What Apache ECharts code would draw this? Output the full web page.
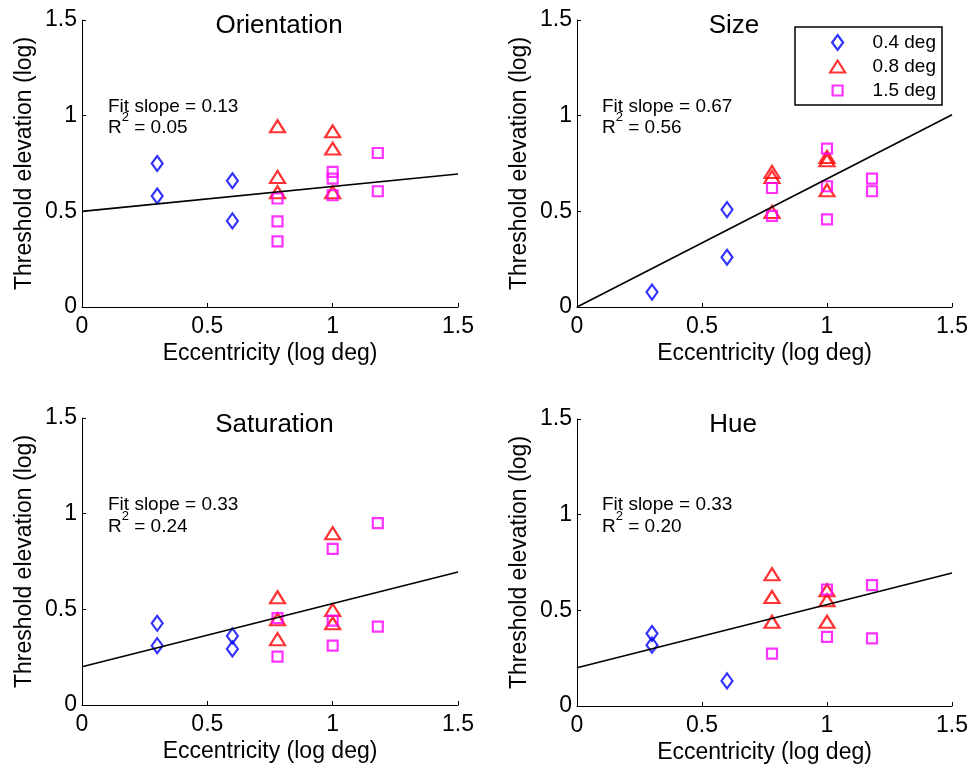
<!DOCTYPE html>
<html>
<head>
<meta charset="utf-8">
<title>Threshold elevation vs eccentricity</title>
<script src="https://cdn.jsdelivr.net/npm/echarts@6/dist/echarts.min.js"></script>
<style>
  html, body { margin: 0; padding: 0; background: #fff; }
  #chart { width: 972px; height: 766px; }
</style>
</head>
<body>
<div id="chart"></div>
<script>
// Panel labels and regression summaries
const panelTitles = ['Orientation', 'Size', 'Saturation', 'Hue'];
const fitSlopes = [0.13, 0.67, 0.33, 0.33];
const fitIntercepts = [0.5, 0, 0.2, 0.2];
const rSquared = ['0.05', '0.56', '0.24', '0.20'];
const fitRange = [0, 1.5];

// Stimulus size groups
const groupNames = ['0.4 deg', '0.8 deg', '1.5 deg'];

// [eccentricity (log deg), threshold elevation (log)]
const orientation04 = [[0.3, 0.75], [0.3, 0.58], [0.6, 0.66], [0.6, 0.45]];
const orientation08 = [[0.78, 0.945], [0.78, 0.68], [0.78, 0.60], [1.0, 0.918], [1.0, 0.828], [1.0, 0.60]];
const orientation15 = [[0.78, 0.567], [0.78, 0.448], [0.78, 0.343], [1.0, 0.706], [1.0, 0.671], [1.0, 0.584], [1.18, 0.805], [1.18, 0.605]];

const size04 = [[0.3, 0.078], [0.6, 0.509], [0.6, 0.26]];
const size08 = [[0.78, 0.706], [0.78, 0.68], [0.78, 0.497], [1.0, 0.784], [1.0, 0.767], [1.0, 0.61]];
const size15 = [[0.78, 0.622], [0.78, 0.476], [1.0, 0.828], [1.0, 0.631], [1.0, 0.458], [1.18, 0.671], [1.18, 0.605]];

const saturation04 = [[0.3, 0.427], [0.3, 0.31], [0.6, 0.361], [0.6, 0.293]];
const saturation08 = [[0.78, 0.563], [0.78, 0.448], [0.78, 0.344], [1.0, 0.898], [1.0, 0.497], [1.0, 0.427]];
const saturation15 = [[0.78, 0.454], [0.78, 0.253], [1.0, 0.816], [1.0, 0.441], [1.0, 0.31], [1.18, 0.951], [1.18, 0.41]];

const hue04 = [[0.3, 0.379], [0.3, 0.318], [0.6, 0.131]];
const hue08 = [[0.78, 0.689], [0.78, 0.57], [0.78, 0.44], [1.0, 0.605], [1.0, 0.553], [1.0, 0.44]];
const hue15 = [[0.78, 0.274], [1.0, 0.609], [1.0, 0.361], [1.18, 0.632], [1.18, 0.353]];

const panelData = [
  [orientation04, orientation08, orientation15],
  [size04, size08, size15],
  [saturation04, saturation08, saturation15],
  [hue04, hue08, hue15]
];

// ---- styling ----
const FONT = "'Liberation Sans', Arial, Helvetica, sans-serif";
const groupColors = ['#0000ff', '#ff0000', '#ff00ff'];
const groupSymbols = ['diamond', 'triangle', 'rect'];
const groupSymbolSizes = [[11, 15], [15, 12], [10, 10]];
// Legend glyphs, each padded to a 15px tall box so they keep their own size
const legendIcons = [
  'path://M5.5,0L11,7.5L5.5,15L0,7.5Z',
  'path://M0,-1.5M7.5,0L15,12L0,12ZM0,13.5',
  'path://M0,-2.5M0,0L10,0L10,10L0,10ZM0,12.5'
];

const grids = [
  { left: 82, top: 20, width: 376, height: 287 },
  { left: 577, top: 20, width: 375, height: 287 },
  { left: 82, top: 418, width: 376, height: 287 },
  { left: 577, top: 419, width: 375, height: 287 }
];
const titlePos = [[279, 26], [734, 26], [274.5, 425], [733, 425]];
// [left, first line centre, second line block centre]
const fitTextPos = [[108, 107, 128], [602, 107, 128], [108, 505, 527], [602, 505, 527]];

const axisCommon = {
  type: 'value', min: 0, max: 1.5, interval: 0.5,
  axisLine: { show: true, onZero: false, lineStyle: { color: '#000', width: 1 } },
  axisTick: { show: true, inside: true, length: 4, lineStyle: { color: '#000', width: 1 } },
  splitLine: { show: false },
  nameLocation: 'middle',
  nameMoveOverlap: false,
  nameTextStyle: { fontSize: 23, color: '#000', fontFamily: FONT }
};

const xAxes = grids.map((g, i) => Object.assign({}, axisCommon, {
  gridIndex: i,
  name: 'Eccentricity (log deg)',
  nameGap: 35,
  axisLabel: { fontSize: 23, color: '#000', fontFamily: FONT, margin: 8, showMinLabel: true, showMaxLabel: true }
}));
const yAxes = grids.map((g, i) => Object.assign({}, axisCommon, {
  gridIndex: i,
  name: 'Threshold elevation (log)',
  nameGap: 46,
  axisLabel: { fontSize: 23, color: '#000', fontFamily: FONT, margin: 5, showMinLabel: true, showMaxLabel: true }
}));

const series = [];
panelData.forEach((groups, p) => {
  groups.forEach((pts, g) => {
    series.push({
      type: 'scatter',
      name: groupNames[g],
      xAxisIndex: p, yAxisIndex: p,
      data: pts,
      symbol: groupSymbols[g],
      symbolSize: groupSymbolSizes[g],
      itemStyle: { color: 'transparent', borderColor: groupColors[g], borderWidth: 2.2 },
      emphasis: { disabled: true },
      z: 3
    });
  });
  const b = fitIntercepts[p], m = fitSlopes[p];
  series.push({
    type: 'line',
    name: 'fit',
    xAxisIndex: p, yAxisIndex: p,
    data: fitRange.map(x => [x, b + m * x]),
    symbol: 'none',
    lineStyle: { color: '#000', width: 1.6 },
    silent: true,
    z: 4
  });
});

const graphicTexts = [];
panelTitles.forEach((t, p) => {
  graphicTexts.push({
    type: 'text', x: titlePos[p][0], y: titlePos[p][1],
    style: { text: t, font: '26px ' + FONT, fill: '#000', align: 'center', verticalAlign: 'middle', textAlign: 'center', textVerticalAlign: 'middle' }
  });
  graphicTexts.push({
    type: 'text', x: fitTextPos[p][0], y: fitTextPos[p][1],
    style: { text: 'Fit slope = ' + fitSlopes[p].toFixed(2), font: '19px ' + FONT, fill: '#000', align: 'left', verticalAlign: 'middle', textAlign: 'left', textVerticalAlign: 'middle' }
  });
  graphicTexts.push({
    type: 'text', x: fitTextPos[p][0], y: fitTextPos[p][2],
    style: {
      text: '{r|R}{s|2}{r| = ' + rSquared[p] + '}',
      rich: {
        r: { fontSize: 19, lineHeight: 19, fontFamily: FONT, fill: '#000', color: '#000', verticalAlign: 'bottom' },
        s: { fontSize: 13, lineHeight: 13, fontFamily: FONT, fill: '#000', color: '#000', verticalAlign: 'bottom', padding: [0, 0, 14, 0] }
      },
      align: 'left', verticalAlign: 'middle', textAlign: 'left', textVerticalAlign: 'middle'
    }
  });
});

const chart = echarts.init(document.getElementById('chart'), null, { renderer: 'canvas' });
chart.setOption({
  animation: false,
  backgroundColor: '#fff',
  textStyle: { fontFamily: FONT },
  grid: grids.map(g => Object.assign({ containLabel: false, outerBoundsMode: 'none' }, g)),
  xAxis: xAxes,
  yAxis: yAxes,
  legend: {
    right: 30, top: 27,
    orient: 'vertical',
    padding: [6, 6, 5, 34],
    itemWidth: 60, itemHeight: 15, itemGap: 5,
    borderColor: '#000', borderWidth: 1.5,
    backgroundColor: '#fff',
    selectedMode: false,
    textStyle: { fontSize: 19, color: '#000', fontFamily: FONT },
    data: groupNames.map((n, i) => ({
      name: n, icon: legendIcons[i],
      itemStyle: { color: 'transparent', borderColor: groupColors[i], borderWidth: 2.2 }
    }))
  },
  graphic: graphicTexts,
  series: series
});
</script>
</body>
</html>
